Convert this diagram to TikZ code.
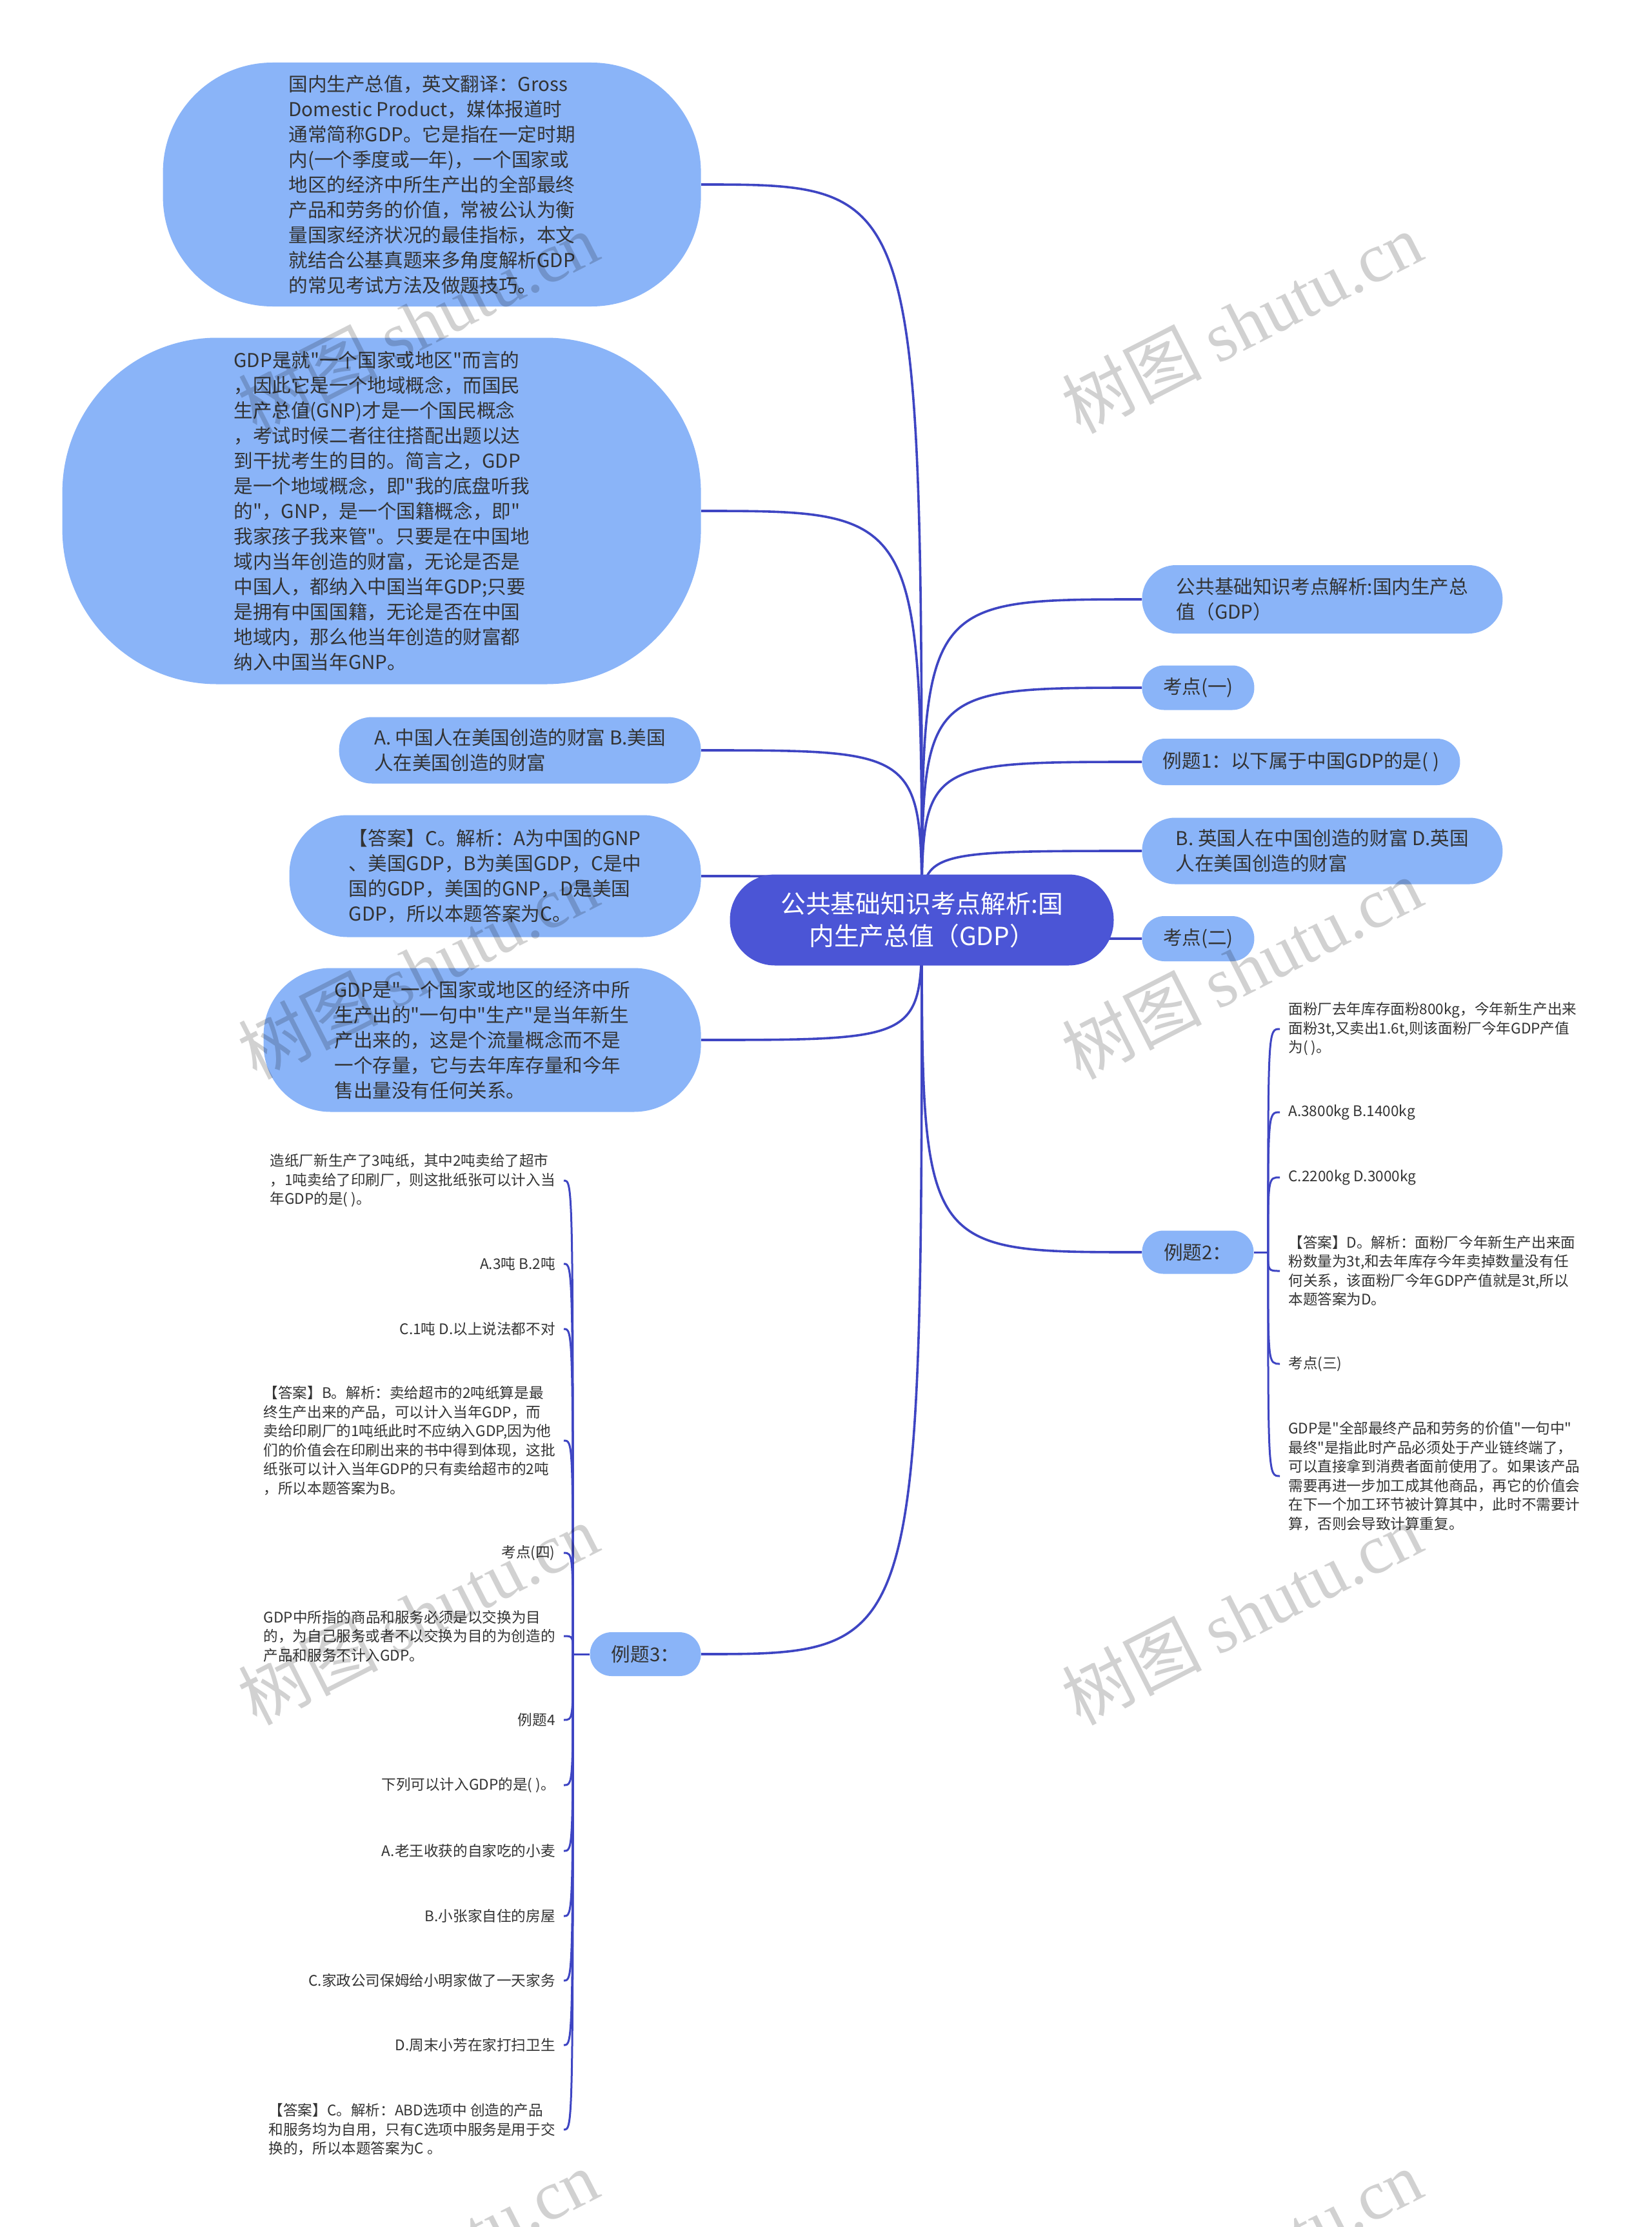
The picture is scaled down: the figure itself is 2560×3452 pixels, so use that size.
\documentclass[tikz,border=0pt]{standalone}
\usepackage{fontspec}
\setmainfont{Noto Sans CJK SC}[Ligatures=TeXOff]
\newfontfamily\wmfont{Liberation Serif}
\usetikzlibrary{backgrounds}
\definecolor{bubblefill}{HTML}{8AB4F8}
\definecolor{rootfill}{HTML}{4B55D6}
\definecolor{linkblue}{HTML}{3E45C3}
\definecolor{inkgray}{HTML}{333333}
\tikzset{
    bubble/.style n args={3}{fill=bubblefill,text=inkgray,align=left,inner sep=0pt,
        minimum width=#1,minimum height=#2,rounded corners=#3,
        font=\fontsize{14.8pt}{19.5pt}\selectfont},
    rootnode/.style={fill=rootfill,text=white,align=center,inner sep=0pt,
        minimum width=297.5pt,minimum height=70.5pt,rounded corners=35pt,
        font=\fontsize{19.4pt}{25pt}\selectfont},
    leaf/.style={text=inkgray,align=left,inner sep=6.5pt,
        font=\fontsize{11.3pt}{14.75pt}\selectfont},
    link/.style={linkblue,line width=1.8pt},
    twig/.style={linkblue,line width=1.5pt},
    watermark/.style={text=black,text opacity=0.18,rotate=27,inner sep=0pt,
        font=\fontsize{54pt}{54pt}\selectfont}
}
\begin{document}
\begin{tikzpicture}[x=0.5pt,y=-0.5pt]
    \useasboundingbox (0,0) rectangle (2560,3452);
    \begin{pgfonlayer}{background}
        \fill [white] (0,0) rectangle (2560,3452);
    \end{pgfonlayer}
    \node [rootnode] (root) at (1429,1426) {公共基础知识考点解析:国\\内生产总值（GDP）};
    \node [bubble={417pt}{189pt}{85pt},anchor=east] (intro) at (1087,286) {国内生产总值，英文翻译：Gross\\Domestic Product，媒体报道时\\通常简称GDP。它是指在一定时期\\内(一个季度或一年)，一个国家或\\地区的经济中所生产出的全部最终\\产品和劳务的价值，常被公认为衡\\量国家经济状况的最佳指标，本文\\就结合公基真题来多角度解析GDP\\的常见考试方法及做题技巧。};
    \node [bubble={495pt}{268.5pt}{120pt},anchor=east] (terr) at (1087,792) {GDP是就"一个国家或地区"而言的\\，因此它是一个地域概念，而国民\\生产总值(GNP)才是一个国民概念\\，考试时候二者往往搭配出题以达\\到干扰考生的目的。简言之，GDP\\是一个地域概念，即"我的底盘听我\\的"，GNP，是一个国籍概念，即"\\我家孩子我来管"。只要是在中国地\\域内当年创造的财富，无论是否是\\中国人，都纳入中国当年GDP;只要\\是拥有中国国籍，无论是否在中国\\地域内，那么他当年创造的财富都\\纳入中国当年GNP。};
    \node [bubble={280.5pt}{51.5pt}{25.5pt},anchor=east] (optac) at (1087,1163) {A. 中国人在美国创造的财富 B.美国\\人在美国创造的财富};
    \node [bubble={319pt}{94.5pt}{45pt},anchor=east] (ansc) at (1087,1358) {【答案】C。解析：A为中国的GNP\\、美国GDP，B为美国GDP，C是中\\国的GDP，美国的GNP，D是美国\\GDP，所以本题答案为C。};
    \node [bubble={339pt}{111.5pt}{52pt},anchor=east] (flow) at (1087,1612) {GDP是"一个国家或地区的经济中所\\生产出的"一句中"生产"是当年新生\\产出来的，这是个流量概念而不是\\一个存量，它与去年库存量和今年\\售出量没有任何关系。};
    \node [bubble={86pt}{34pt}{16.8pt},anchor=east] (ex3) at (1087,2564) {例题3：};
    \node [bubble={279.5pt}{53pt}{26.3pt},anchor=west] (title) at (1770,929) {公共基础知识考点解析:国内生产总\\值（GDP）};
    \node [bubble={87pt}{34.5pt}{17pt},anchor=west] (kp1) at (1770,1066) {考点(一)};
    \node [bubble={246.5pt}{36pt}{17.8pt},anchor=west] (ex1) at (1770,1181) {例题1：以下属于中国GDP的是( )};
    \node [bubble={279.5pt}{51.5pt}{25.5pt},anchor=west] (optbd) at (1770,1319) {B. 英国人在中国创造的财富 D.英国\\人在美国创造的财富};
    \node [bubble={87pt}{35pt}{17.3pt},anchor=west] (kp2) at (1770,1455) {考点(二)};
    \node [bubble={86.5pt}{33.5pt}{16.5pt},anchor=west] (ex2) at (1770,1941) {例题2：};
    \node [leaf,anchor=west] (q2) at (1984,1595) {面粉厂去年库存面粉800kg，今年新生产出来\\面粉3t,又卖出1.6t,则该面粉厂今年GDP产值\\为( )。};
    \node [leaf,anchor=west] (q2ab) at (1984,1724) {A.3800kg B.1400kg};
    \node [leaf,anchor=west] (q2cd) at (1984,1825) {C.2200kg D.3000kg};
    \node [leaf,anchor=west] (ans2) at (1984,1970) {【答案】D。解析：面粉厂今年新生产出来面\\粉数量为3t,和去年库存今年卖掉数量没有任\\何关系，该面粉厂今年GDP产值就是3t,所以\\本题答案为D。};
    \node [leaf,anchor=west] (kp3) at (1984,2114) {考点(三)};
    \node [leaf,anchor=west] (final) at (1984,2288) {GDP是"全部最终产品和劳务的价值"一句中"\\最终"是指此时产品必须处于产业链终端了，\\可以直接拿到消费者面前使用了。如果该产品\\需要再进一步加工成其他商品，再它的价值会\\在下一个加工环节被计算其中，此时不需要计\\算，否则会导致计算重复。};
    \node [leaf,anchor=east] (q3) at (874,1830) {造纸厂新生产了3吨纸，其中2吨卖给了超市\\，1吨卖给了印刷厂，则这批纸张可以计入当\\年GDP的是( )。};
    \node [leaf,anchor=east] (q3ab) at (874,1959) {A.3吨 B.2吨};
    \node [leaf,anchor=east] (q3cd) at (874,2060) {C.1吨 D.以上说法都不对};
    \node [leaf,anchor=east] (ans3) at (874,2233) {【答案】B。解析：卖给超市的2吨纸算是最\\终生产出来的产品，可以计入当年GDP，而\\卖给印刷厂的1吨纸此时不应纳入GDP,因为他\\们的价值会在印刷出来的书中得到体现，这批\\纸张可以计入当年GDP的只有卖给超市的2吨\\，所以本题答案为B。};
    \node [leaf,anchor=east] (kp4) at (874,2407) {考点(四)};
    \node [leaf,anchor=east] (goods) at (874,2536) {GDP中所指的商品和服务必须是以交换为目\\的，为自己服务或者不以交换为目的为创造的\\产品和服务不计入GDP。};
    \node [leaf,anchor=east] (ex4) at (874,2666) {例题4};
    \node [leaf,anchor=east] (q4) at (874,2767) {下列可以计入GDP的是( )。};
    \node [leaf,anchor=east] (q4a) at (874,2869) {A.老王收获的自家吃的小麦};
    \node [leaf,anchor=east] (q4b) at (874,2970) {B.小张家自住的房屋};
    \node [leaf,anchor=east] (q4c) at (874,3070) {C.家政公司保姆给小明家做了一天家务};
    \node [leaf,anchor=east] (q4d) at (874,3170) {D.周末小芳在家打扫卫生};
    \node [leaf,anchor=east] (ans4) at (874,3301) {【答案】C。解析：ABD选项中 创造的产品\\和服务均为自用，只有C选项中服务是用于交\\换的，所以本题答案为C 。};
    \begin{pgfonlayer}{background}
        \foreach \n in {intro,terr,optac,ansc,flow,ex3}
            \draw [link] (root.center) .. controls (root.center |- \n.east) .. (\n.east);
        \foreach \n in {title,kp1,ex1,optbd,kp2,ex2}
            \draw [link] (root.center) .. controls (root.center |- \n.west) .. (\n.west);
    \end{pgfonlayer}
    \draw [twig] (ex2.east) -- ++(22,0) coordinate (ex2j);
    \foreach \n in {q2,q2ab,q2cd,ans2,kp3,final}
        \draw [twig] (ex2j) .. controls (ex2j |- \n.west) .. (\n.west);
    \draw [twig] (ex3.west) -- ++(-26,0) coordinate (ex3j);
    \foreach \n in {q3,q3ab,q3cd,ans3,kp4,goods,ex4,q4,q4a,q4b,q4c,q4d,ans4}
        \draw [twig] (ex3j) .. controls (ex3j |- \n.east) .. (\n.east);
    \begin{scope}
        \clip (0,0) rectangle (2560,3452);
        \foreach \wx in {648,1925}
            \foreach \wy in {500,1501,2502,3503}
                \node [watermark] (wm\wx\wy) at (\wx,\wy) {树图 {\wmfont shutu.cn}};
    \end{scope}
\end{tikzpicture}
\end{document}
